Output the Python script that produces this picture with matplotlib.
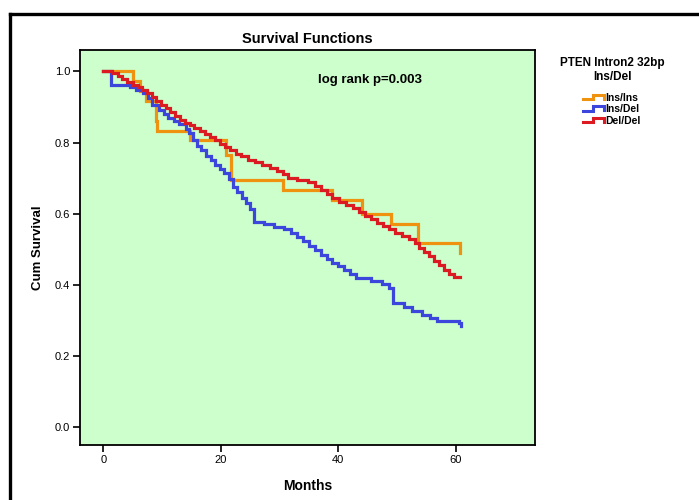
import numpy as np
import matplotlib.pyplot as plt
from matplotlib.lines import Line2D
from matplotlib.legend_handler import HandlerBase

plt.rcParams['font.family'] = ['Liberation Sans', 'DejaVu Sans']

# Kaplan-Meier step points (months, cumulative survival)
ins_ins_t = [0, 5.1, 6.3, 7.2, 8.9, 9.2, 14.8, 20.9, 21.7, 30.6, 39.0, 44.0, 49.0, 53.6, 60.8]
ins_ins_s = [1.0, 0.972, 0.944, 0.917, 0.861, 0.833, 0.806, 0.764, 0.694, 0.667, 0.639, 0.600, 0.570, 0.517, 0.490]

ins_del_t = [0, 1.2, 4.5, 5.6, 6.8, 7.6, 8.3, 9.5, 10.3, 11.0, 12.0, 12.8, 14.0, 14.6, 15.3,
             16.0, 16.6, 17.5, 18.3, 19.0, 19.8, 20.6, 21.4, 22.1, 22.8, 23.6, 24.3, 25.0, 25.6,
             27.3, 29.0, 30.8, 32.0, 33.0, 34.0, 35.0, 36.0, 37.0, 38.0, 39.0, 40.0, 41.0, 42.0,
             43.0, 45.5, 47.5, 48.6, 49.3, 51.2, 52.6, 54.2, 55.6, 56.8, 60.6, 60.9]
ins_del_s = [1.0, 0.963, 0.955, 0.947, 0.938, 0.925, 0.905, 0.890, 0.880, 0.868, 0.860, 0.852, 0.838,
             0.826, 0.806, 0.790, 0.778, 0.762, 0.750, 0.737, 0.725, 0.713, 0.697, 0.676, 0.662,
             0.645, 0.630, 0.612, 0.578, 0.570, 0.564, 0.558, 0.546, 0.534, 0.522, 0.510, 0.497,
             0.485, 0.474, 0.462, 0.452, 0.442, 0.430, 0.418, 0.410, 0.402, 0.390, 0.348, 0.338,
             0.327, 0.315, 0.306, 0.299, 0.294, 0.284]

del_del_t = [0, 1.5, 2.5, 3.2, 4.0, 5.0, 5.8, 6.5, 7.4, 8.2, 9.0, 9.8, 10.6, 11.3, 12.2, 13.0,
             13.8, 14.7, 15.5, 16.4, 17.3, 18.2, 19.0, 19.8, 20.7, 21.6, 22.5, 23.5, 24.6, 25.8,
             27.0, 28.3, 29.5, 30.6, 31.5, 33.0, 34.8, 36.0, 37.0, 38.0, 39.0, 40.2, 41.3, 42.5,
             43.6, 44.6, 45.6, 46.6, 47.6, 48.6, 49.6, 50.8, 52.0, 53.0, 53.8, 54.6, 55.5, 56.3,
             57.2, 58.0, 58.8, 59.7, 60.8]
del_del_s = [1.0, 0.994, 0.987, 0.978, 0.971, 0.963, 0.955, 0.947, 0.938, 0.929, 0.918, 0.906,
             0.896, 0.886, 0.875, 0.864, 0.856, 0.849, 0.842, 0.833, 0.825, 0.815, 0.806, 0.797,
             0.788, 0.778, 0.769, 0.761, 0.752, 0.744, 0.736, 0.728, 0.720, 0.711, 0.700, 0.694,
             0.688, 0.678, 0.666, 0.655, 0.644, 0.634, 0.625, 0.616, 0.605, 0.594, 0.584, 0.574,
             0.565, 0.556, 0.547, 0.538, 0.528, 0.519, 0.505, 0.492, 0.480, 0.467, 0.455, 0.443,
             0.431, 0.421, 0.421]

groups = ['Ins/Ins', 'Ins/Del', 'Del/Del']
colors = ['#EE9210', '#3C46DC', '#DC1A22']
x_ticks = [0, 20, 40, 60]
y_ticks = [0.0, 0.2, 0.4, 0.6, 0.8, 1.0]


class StepHandler(HandlerBase):
    # legend icon shaped like a small survival step
    def create_artists(self, legend, orig_handle, xdescent, ydescent, width, height, fontsize, trans):
        x = np.array([0, 0.45, 0.45, 1.0, 1.0]) * width - xdescent
        y = np.array([0.2, 0.2, 0.85, 0.85, 0.3]) * height - ydescent
        ln = Line2D(x, y, color=orig_handle.get_color(), lw=2.2, solid_joinstyle='miter')
        ln.set_transform(trans)
        return [ln]


fig = plt.figure(figsize=(6.99, 5.0), dpi=100)
ax = fig.add_axes([80 / 699, 55 / 500, 455 / 699, 395 / 500])
ax.set_facecolor('#CCFFCC')

handles = []
for t, s, c in zip([ins_ins_t, ins_del_t, del_del_t], [ins_ins_s, ins_del_s, del_del_s], colors):
    h, = ax.step(t, s, where='post', color=c, lw=2.3, solid_joinstyle='miter')
    handles.append(h)

ax.set_xlim(-4, 73.5)
ax.set_ylim(-0.05, 1.06)
ax.set_xticks(x_ticks)
ax.set_yticks(y_ticks)
ax.set_xticklabels([str(v) for v in x_ticks], fontsize=8)
ax.set_yticklabels(['%.1f' % v for v in y_ticks], fontsize=8)
ax.tick_params(direction='out', length=5, width=1.2, pad=2)
for sp in ax.spines.values():
    sp.set_linewidth(1.3)

ax.set_title('Survival Functions', fontsize=10.5, fontweight='bold', pad=5)
ax.set_xlabel('Months', fontsize=10, fontweight='bold', labelpad=10)
ax.set_ylabel('Cum Survival', fontsize=9.5, fontweight='bold', labelpad=8)
ax.text(45.4, 0.975, 'log rank p=0.003', fontsize=9.5, fontweight='bold', ha='center', va='center')

leg = fig.legend(handles, groups, loc='upper center', bbox_to_anchor=(612 / 699, 1 - 50 / 500),
                 title='PTEN Intron2 32bp\nIns/Del', frameon=False,
                 handler_map={Line2D: StepHandler()},
                 prop={'size': 7.5, 'weight': 'bold'}, handlelength=2.0, handletextpad=0.1,
                 labelspacing=0.15, borderpad=0.2)
leg.get_title().set_fontweight('bold')
leg.get_title().set_fontsize(8.5)
leg.get_title().set_multialignment('center')
leg._legend_box.sep = 7

# thick frame on top and left of the image
fig.add_artist(Line2D([10 / 699, 1], [1 - 14 / 500, 1 - 14 / 500], color='black', lw=2.4,
                      transform=fig.transFigure))
fig.add_artist(Line2D([10 / 699, 10 / 699], [0, 1 - 14 / 500], color='black', lw=2.4,
                      transform=fig.transFigure))

fig.savefig('out.png', dpi=100)
